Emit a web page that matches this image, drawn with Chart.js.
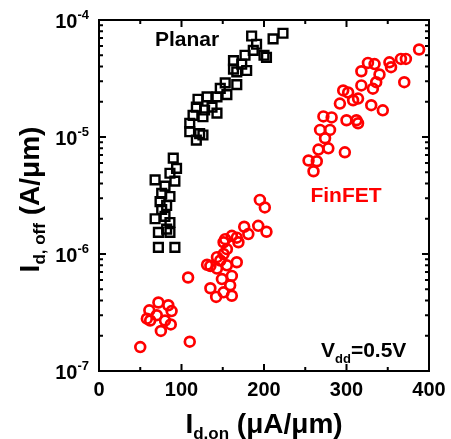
<!DOCTYPE html>
<html>
<head>
<meta charset="utf-8">
<script src="https://cdn.jsdelivr.net/npm/chart.js@4.4.1/dist/chart.umd.min.js"></script>
<style>
    html, body { margin: 0; padding: 0; background: #fff; }
    #wrap { width: 451px; height: 439px; }
</style>
</head>
<body>
<div id="wrap"><canvas id="chart"></canvas></div>
<script>
// on-current (uA/um) and off-current (A/um) per device
const planarOn = [185, 191, 211, 223, 203, 187, 177, 163, 173, 179, 167, 163, 153, 167, 147, 155, 143, 131, 120, 118,
    128, 137, 143, 114, 126, 110, 110, 122, 118, 126, 200,
    90, 94, 86, 68, 92, 80, 76, 86, 74, 82, 68, 80, 86, 72, 86, 72, 92, 82, 76];
const planarOff = [7.3e-5, 6.2e-5, 6.9e-5, 7.7e-5, 4.8e-5, 5.5e-5, 5.0e-5, 4.5e-5, 4.2e-5, 3.7e-5, 3.6e-5, 3.8e-5, 2.9e-5, 2.8e-5, 2.6e-5, 2.3e-5, 2.2e-5, 2.2e-5, 2.1e-5, 1.8e-5,
    1.7e-5, 1.8e-5, 1.6e-5, 1.53e-5, 1.49e-5, 1.31e-5, 1.11e-5, 1.07e-5, 9.4e-6, 1.04e-5, 5.0e-5,
    6.6e-6, 5.4e-6, 4.9e-6, 4.3e-6, 4.2e-6, 3.8e-6, 3.3e-6, 3.1e-6, 2.8e-6, 2.6e-6, 2.0e-6, 2.1e-6, 1.86e-6, 1.53e-6, 1.53e-6, 1.14e-6, 1.14e-6, 1.63e-6, 2.4e-6];

const finfetOn = [50, 61, 72, 84, 88, 62, 70, 80, 87, 75, 58, 110, 108, 131, 135, 135, 142, 151, 161, 161,
    159, 149, 143, 147, 155, 167, 143, 151, 155, 151, 153, 161, 169, 167, 176, 181, 193, 203, 195, 201,
    254, 260, 264, 266, 278, 298, 274, 268, 280, 272, 282, 292, 300, 312, 314, 296, 302, 308, 314, 318,
    332, 330, 344, 336, 318, 326, 334, 340, 354, 352, 366, 372, 370, 388];
const finfetOff = [1.6e-7, 3.3e-7, 3.85e-7, 3.65e-7, 3.25e-7, 2.7e-7, 3.0e-7, 2.7e-7, 2.5e-7, 2.2e-7, 2.8e-7, 1.78e-7, 6.3e-7, 8.1e-7, 7.9e-7, 5.1e-7, 4.3e-7, 4.7e-7, 4.4e-7, 6.5e-7,
    5.4e-7, 6.1e-7, 7.5e-7, 8.8e-7, 8.0e-7, 8.5e-7, 9.4e-7, 1.0e-6, 1.1e-6, 1.26e-6, 1.34e-6, 1.43e-6, 1.26e-6, 1.38e-6, 1.71e-6, 1.48e-6, 1.74e-6, 1.55e-6, 2.9e-6, 2.5e-6,
    6.3e-6, 5.1e-6, 6.2e-6, 7.8e-6, 8.0e-6, 7.4e-6, 9.75e-6, 1.15e-5, 1.15e-5, 1.5e-5, 1.47e-5, 1.93e-5, 1.39e-5, 1.39e-5, 1.31e-5, 2.5e-5, 2.4e-5, 2.06e-5, 2.13e-5, 2.76e-5,
    2.59e-5, 1.87e-5, 1.69e-5, 2.94e-5, 3.65e-5, 4.3e-5, 4.2e-5, 3.42e-5, 3.95e-5, 4.35e-5, 4.65e-5, 4.65e-5, 2.94e-5, 5.6e-5];

const xTicks = [0, 100, 200, 300, 400];
const xMinorTicks = [50, 150, 250, 350];
const yDecades = [-7, -6, -5, -4];

const FONT = '"Liberation Sans", Arial, sans-serif';

function toPoints(xs, ys) {
    return xs.map((x, i) => ({ x: x, y: ys[i] }));
}

function font(size) {
    return `bold ${size}px ${FONT}`;
}

// parts: [{ text, size, dy }] drawn left to right on one baseline
function richWidth(ctx, parts) {
    let w = 0;
    parts.forEach(p => {
        ctx.font = font(p.size);
        w += ctx.measureText(p.text).width;
    });
    return w;
}

function drawRich(ctx, parts, x, y) {
    ctx.textAlign = 'left';
    ctx.textBaseline = 'alphabetic';
    parts.forEach(p => {
        ctx.font = font(p.size);
        ctx.fillText(p.text, x, y + (p.dy || 0));
        x += ctx.measureText(p.text).width;
    });
}

const framePlugin = {
    id: 'frame',
    afterDatasetsDraw(chart) {
        const ctx = chart.ctx;
        const xs = chart.scales.x;
        const ys = chart.scales.y;
        const { left, right, top, bottom } = chart.chartArea;

        ctx.save();
        ctx.strokeStyle = '#000';
        ctx.fillStyle = '#000';
        ctx.lineWidth = 2;
        ctx.strokeRect(left, top, right - left, bottom - top);

        // inward ticks on all four sides
        ctx.beginPath();
        const tickX = (v, len) => {
            const px = xs.getPixelForValue(v);
            ctx.moveTo(px, bottom); ctx.lineTo(px, bottom - len);
            ctx.moveTo(px, top); ctx.lineTo(px, top + len);
        };
        const tickY = (v, len) => {
            const py = ys.getPixelForValue(v);
            ctx.moveTo(left, py); ctx.lineTo(left + len, py);
            ctx.moveTo(right, py); ctx.lineTo(right - len, py);
        };
        xTicks.forEach(v => tickX(v, 7));
        xMinorTicks.forEach(v => tickX(v, 4));
        yDecades.forEach(d => {
            tickY(Math.pow(10, d), 7);
            if (d < -4) {
                for (let k = 2; k <= 9; k++) tickY(k * Math.pow(10, d), 4);
            }
        });
        ctx.stroke();

        // x tick labels
        ctx.font = font(20);
        ctx.textAlign = 'center';
        ctx.textBaseline = 'alphabetic';
        xTicks.forEach(v => {
            ctx.fillText(String(v), xs.getPixelForValue(v), bottom + 25);
        });

        // y tick labels as powers of ten
        yDecades.forEach(d => {
            const py = ys.getPixelForValue(Math.pow(10, d));
            const parts = [{ text: '10', size: 20 }, { text: String(d), size: 13, dy: -9 }];
            drawRich(ctx, parts, 89 - richWidth(ctx, parts), py + 8);
        });

        // axis titles
        const xTitle = [{ text: 'I', size: 28 }, { text: 'd,on', size: 17, dy: 6 }, { text: ' (\u03bcA/\u03bcm)', size: 28 }];
        const cx = (left + right) / 2;
        drawRich(ctx, xTitle, cx - richWidth(ctx, xTitle) / 2, 433);

        const yTitle = [{ text: 'I', size: 28 }, { text: 'd, off', size: 17, dy: 6 }, { text: ' (A/\u03bcm)', size: 28 }];
        ctx.save();
        ctx.translate(39, (top + bottom) / 2 + 4);
        ctx.rotate(-Math.PI / 2);
        drawRich(ctx, yTitle, -richWidth(ctx, yTitle) / 2, 0);
        ctx.restore();

        // annotations
        ctx.font = font(21);
        ctx.textAlign = 'center';
        ctx.textBaseline = 'middle';
        ctx.fillText('Planar', 187, 40);
        ctx.fillStyle = '#ff0000';
        ctx.fillText('FinFET', 346, 196);

        ctx.fillStyle = '#000';
        drawRich(ctx, [{ text: 'V', size: 21 }, { text: 'dd', size: 13, dy: 6 }, { text: '=0.5V', size: 21 }], 321, 357);

        ctx.restore();
    }
};

new Chart(document.getElementById('chart'), {
    type: 'scatter',
    data: {
        datasets: [
            {
                label: 'Planar',
                data: toPoints(planarOn, planarOff),
                pointStyle: 'rect',
                pointRadius: 6.2,
                borderWidth: 2.4,
                borderColor: '#000',
                backgroundColor: 'rgba(0,0,0,0)',
            },
            {
                label: 'FinFET',
                data: toPoints(finfetOn, finfetOff),
                pointStyle: 'circle',
                pointRadius: 4.9,
                borderWidth: 2.7,
                borderColor: '#ff0000',
                backgroundColor: 'rgba(0,0,0,0)',
            }
        ]
    },
    options: {
        responsive: true,
        maintainAspectRatio: false,
        animation: false,
        layout: { padding: { left: 99, top: 20, right: 22, bottom: 68 } },
        scales: {
            x: { type: 'linear', min: 0, max: 400, display: false },
            y: { type: 'logarithmic', min: 1e-7, max: 1e-4, display: false }
        },
        plugins: {
            legend: { display: false },
            tooltip: { enabled: false }
        }
    },
    plugins: [framePlugin]
});
</script>
</body>
</html>
